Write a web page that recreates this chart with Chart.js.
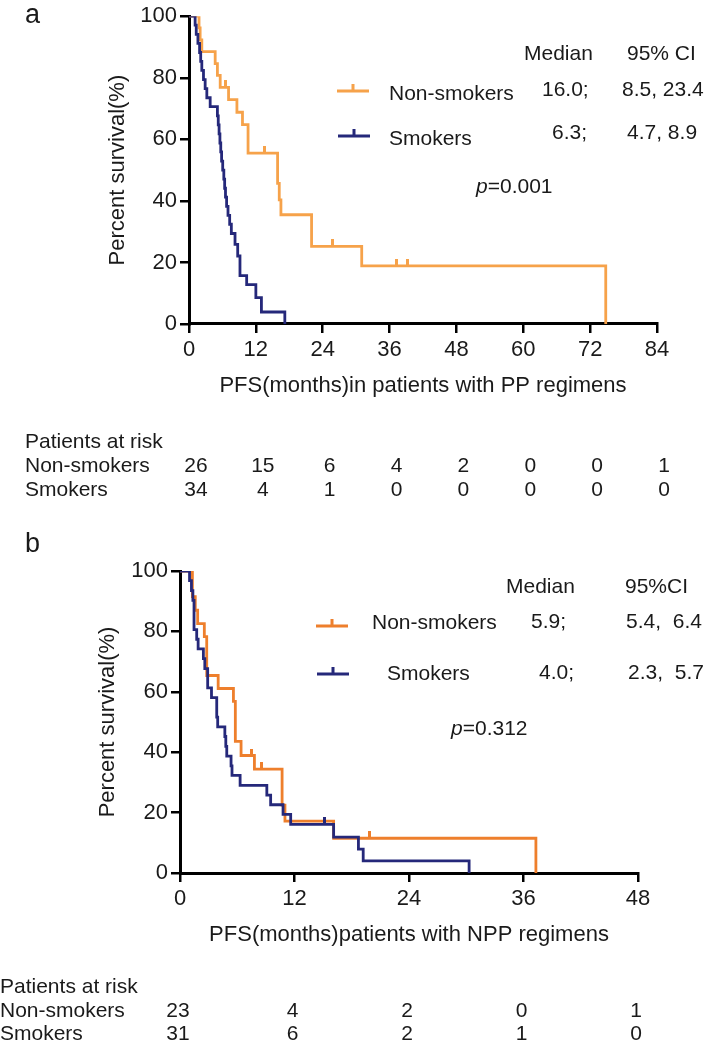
<!DOCTYPE html>
<html>
<head>
<meta charset="utf-8">
<script src="https://cdn.jsdelivr.net/npm/chart.js@4.4.1/dist/chart.umd.min.js"></script>
<style>
  body { margin: 0; background: #fff; }
  #page { position: relative; width: 709px; height: 1043px; overflow: hidden;
          font-family: "Liberation Sans", Arial, sans-serif; color: #1a1a1a; }
  #page canvas { position: absolute; left: 0; top: 0; }
  .t { position: absolute; font-size: 21px; line-height: 1; white-space: pre; transform: translateY(-50%); }
  .c { transform: translate(-50%, -50%); }
</style>
</head>
<body>
<div id="page">
  <canvas id="chartA" width="709" height="1043"></canvas>
  <canvas id="chartB" width="709" height="1043"></canvas>
</div>
<script>
// ---- panel a: PP regimens ----
const ppNonTime = [0, 1.8, 2.0, 2.3, 4.7, 5.1, 5.6, 7.1, 8.6, 9.6, 10.6, 15.9, 16.2, 16.5, 22.0, 31.0, 74.8];
const ppNonSurv = [100, 96.2, 92.3, 88.5, 84.6, 80.8, 76.9, 72.9, 68.8, 64.8, 55.5, 45.7, 40.3, 35.5, 25.2, 18.9, 0];
const ppNonCensTime = [6.5, 13.5, 25.8, 37.2, 39.2];
const ppNonCensSurv = [76.9, 55.5, 25.2, 18.9, 18.9];
const ppSmkTime = [0, 1.1, 1.3, 1.6, 1.9, 2.1, 2.3, 2.6, 2.9, 3.2, 3.8, 5.1, 5.25, 5.4, 5.55, 5.7, 5.85, 6.05,
                   6.25, 6.4, 6.55, 6.75, 7.0, 7.3, 7.6, 8.26, 8.74, 9.15, 10.35, 12.0, 13.0, 17.2];
const ppSmkSurv = [100, 97.1, 94.1, 91.2, 88.2, 85.3, 82.4, 79.4, 76.5, 73.5, 70.6, 67.6, 64.7, 61.8, 58.8, 55.9, 52.9, 50.0,
                   47.1, 44.1, 41.2, 38.2, 35.3, 32.4, 29.4, 25.9, 22.1, 15.7, 12.8, 8.6, 3.9, 0];
const ppTicks = [0, 12, 24, 36, 48, 60, 72, 84];
const ppRiskNon = [26, 15, 6, 4, 2, 0, 0, 1];
const ppRiskSmk = [34, 4, 1, 0, 0, 0, 0, 0];

// ---- panel b: NPP regimens ----
const nppNonTime = [0, 1.3, 1.6, 1.85, 2.55, 2.8, 4.0, 5.6, 5.8, 6.4, 7.8, 10.7, 11.0, 16.1, 37.3];
const nppNonSurv = [100, 91.5, 87.0, 82.6, 78.3, 65.4, 61.1, 56.8, 43.6, 38.9, 34.4, 22.5, 17.2, 11.5, 0];
const nppNonCensTime = [7.5, 8.5, 19.9];
const nppNonCensSurv = [38.9, 34.4, 11.5];
const nppSmkTime = [0, 1.0, 1.2, 1.35, 1.47, 1.75, 1.9, 2.45, 2.6, 2.9, 3.3, 3.85, 3.95, 4.7, 4.8, 4.9, 5.35, 5.45,
                    6.3, 9.1, 9.5, 10.8, 11.6, 16.1, 18.7, 19.2, 30.3];
const nppSmkSurv = [100, 96.8, 93.5, 90.3, 80.6, 77.4, 74.2, 71.0, 67.7, 61.3, 58.1, 51.6, 48.4, 45.2, 41.9, 38.7, 35.5, 32.3,
                    29.0, 25.8, 22.6, 19.4, 16.1, 11.9, 7.9, 4.0, 0];
const nppSmkCensTime = [15.1];
const nppSmkCensSurv = [16.1];
const nppTicks = [0, 12, 24, 36, 48];
const nppRiskNon = [23, 4, 2, 0, 1];
const nppRiskSmk = [31, 6, 2, 1, 0];

const NAVY = "#25287a";
const ORANGE_A = "#f6a24a";
const ORANGE_B = "#ee7f2c";
const INK = "#1a1a1a";
const FAMILY = "'Liberation Sans', Arial, sans-serif";

Chart.defaults.font.family = FAMILY;
Chart.defaults.color = INK;

const page = document.getElementById("page");

function pts(xs, ys) {
  return xs.map((x, i) => ({ x: x, y: ys[i] }));
}

// small upward tick used for censored observations
function censorMark(color) {
  const c = document.createElement("canvas");
  c.width = 3;
  c.height = 14;
  const g = c.getContext("2d");
  g.fillStyle = color;
  g.fillRect(0, 0, 3, 7);
  return c;
}

function curve(xs, ys, color) {
  return { data: pts(xs, ys), borderColor: color, borderWidth: 2.8, stepped: true, pointRadius: 0, fill: false };
}

function censors(xs, ys, color) {
  return { data: pts(xs, ys), showLine: false, pointStyle: censorMark(color), pointRadius: 4, borderColor: color };
}

function legendSamples(items) {
  return {
    id: "legendSamples",
    afterDraw(chart) {
      const ctx = chart.ctx;
      items.forEach((it) => {
        const mid = (it.x1 + it.x2) / 2;
        ctx.save();
        ctx.strokeStyle = it.color;
        ctx.lineWidth = 3;
        ctx.beginPath();
        ctx.moveTo(it.x1, it.y);
        ctx.lineTo(it.x2, it.y);
        ctx.moveTo(mid, it.y);
        ctx.lineTo(mid, it.y - 7);
        ctx.stroke();
        ctx.restore();
      });
    },
  };
}

function kmOptions(c) {
  const font = { size: 22, family: FAMILY };
  return {
    responsive: false,
    animation: false,
    events: [],
    layout: { padding: c.pad },
    plugins: { legend: { display: false }, tooltip: { enabled: false } },
    scales: {
      x: {
        type: "linear",
        min: 0,
        max: c.xMax,
        ticks: { stepSize: 12, font: font, color: INK, padding: 4 },
        grid: { drawOnChartArea: false, tickLength: 9, color: "#000", lineWidth: 2.5 },
        border: { color: "#000", width: 3 },
        title: { display: true, text: c.xTitle, font: font, color: INK, padding: { top: 0, bottom: c.xTitlePad } },
        afterFit: (s) => { s.height = c.xHeight; },
      },
      y: {
        min: 0,
        max: 100,
        ticks: { stepSize: 20, font: font, color: INK, padding: 3 },
        grid: { drawOnChartArea: false, tickLength: 9, color: "#000", lineWidth: 2.5 },
        border: { color: "#000", width: 3 },
        title: { display: true, text: "Percent survival(%)", font: font, color: INK, padding: { top: c.yTitlePad, bottom: 0 } },
        afterFit: (s) => { s.width = c.yWidth; },
      },
    },
  };
}

function addText(html, x, y, opts) {
  opts = opts || {};
  const d = document.createElement("div");
  d.className = "t" + (opts.center ? " c" : "");
  d.style.left = x + "px";
  d.style.top = y + "px";
  if (opts.size) d.style.fontSize = opts.size + "px";
  d.innerHTML = html;
  page.appendChild(d);
}

function riskTable(chart, ticks, non, smk, labelX, ys, dx) {
  addText("Patients at risk", labelX, ys[0]);
  addText("Non-smokers", labelX, ys[1]);
  addText("Smokers", labelX, ys[2]);
  ticks.forEach((t, i) => {
    const px = chart.scales.x.getPixelForValue(t) + dx;
    addText(String(non[i]), px, ys[1], { center: true });
    addText(String(smk[i]), px, ys[2], { center: true });
  });
}

// ---- chart a ----
const chartA = new Chart(document.getElementById("chartA"), {
  type: "line",
  data: {
    datasets: [
      curve(ppSmkTime, ppSmkSurv, NAVY),
      curve(ppNonTime, ppNonSurv, ORANGE_A),
      censors(ppNonCensTime, ppNonCensSurv, ORANGE_A),
    ],
  },
  options: kmOptions({
    xMax: 84,
    xTitle: "PFS(months)in patients with PP regimens",
    pad: { left: 100, right: 52, top: 12, bottom: 633 },
    xHeight: 86,
    yWidth: 89,
    xTitlePad: 11,
    yTitlePad: 5,
  }),
  plugins: [legendSamples([
    { x1: 337, x2: 369, y: 91, color: ORANGE_A },
    { x1: 338, x2: 370, y: 136, color: NAVY },
  ])],
});

// ---- chart b ----
const chartB = new Chart(document.getElementById("chartB"), {
  type: "line",
  data: {
    datasets: [
      curve(nppSmkTime, nppSmkSurv, NAVY),
      censors(nppSmkCensTime, nppSmkCensSurv, NAVY),
      curve(nppNonTime, nppNonSurv, ORANGE_B),
      censors(nppNonCensTime, nppNonCensSurv, ORANGE_B),
    ],
  },
  options: kmOptions({
    xMax: 48,
    xTitle: "PFS(months)patients with NPP regimens",
    pad: { left: 92, right: 71, top: 571, bottom: 93 },
    xHeight: 77,
    yWidth: 88,
    xTitlePad: 2,
    yTitlePad: 3,
  }),
  plugins: [legendSamples([
    { x1: 316, x2: 348, y: 626, color: ORANGE_B },
    { x1: 317, x2: 349, y: 674, color: NAVY },
  ])],
});

// ---- annotations, panel a ----
addText("a", 25, 14, { size: 27 });
addText("Median", 524, 52);
addText("95% CI", 627, 52);
addText("Non-smokers", 389, 92);
addText("16.0;", 542, 88);
addText("8.5, 23.4", 622, 88);
addText("Smokers", 389, 137);
addText("6.3;", 552, 131);
addText("4.7, 8.9", 627, 131);
addText("<i>p</i>=0.001", 476, 185);
riskTable(chartA, ppTicks, ppRiskNon, ppRiskSmk, 25, [440, 464, 488], 7);

// ---- annotations, panel b ----
addText("b", 25, 543, { size: 27 });
addText("Median", 506, 585);
addText("95%CI", 625, 585);
addText("Non-smokers", 372, 621);
addText("5.9;", 531, 620);
addText("5.4,  6.4", 626, 620);
addText("Smokers", 387, 672);
addText("4.0;", 539, 671);
addText("2.3,  5.7", 628, 671);
addText("<i>p</i>=0.312", 451, 727);
riskTable(chartB, nppTicks, nppRiskNon, nppRiskSmk, 0, [985, 1009, 1032], -2);
</script>
</body>
</html>
